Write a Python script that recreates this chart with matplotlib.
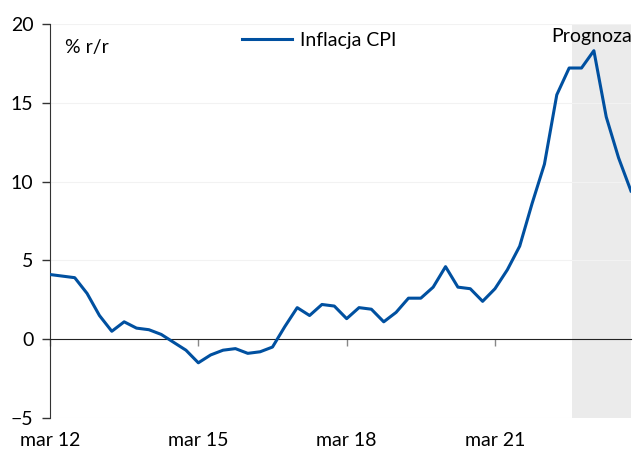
import matplotlib.pyplot as plt

# quarterly CPI y/y, 2012Q1 - 2023Q4
cpi = [4.1, 4.0, 3.9, 2.9, 1.5, 0.5, 1.1, 0.7, 0.6, 0.3,
       -0.2, -0.7, -1.5, -1.0, -0.7, -0.6, -0.9, -0.8, -0.5, 0.8,
       2.0, 1.5, 2.2, 2.1, 1.3, 2.0, 1.9, 1.1, 1.7, 2.6,
       2.6, 3.3, 4.6, 3.3, 3.2, 2.4, 3.2, 4.4, 5.9, 8.6,
       11.1, 15.5, 17.2, 17.2, 18.3, 14.1, 11.5, 9.4]
tick_pos = [0, 12, 24, 36]
tick_labels = ["mar 12", "mar 15", "mar 18", "mar 21"]

plt.rcParams['font.family'] = ['Lato', 'DejaVu Sans']
plt.rcParams['font.size'] = 13

fig = plt.figure(figsize=(6.37, 4.53), dpi=100)
ax = fig.add_axes([0.0785, 0.0773, 0.912, 0.87])

x = list(range(len(cpi)))
ax.axvspan(42.2, 47, color='#ebebeb', lw=0, zorder=0)
for v in [-5, 5, 10, 15, 20]:
    ax.axhline(v, color='#f2f2f2', lw=0.8, zorder=0)
ax.plot(x, cpi, color='#0050a0', lw=2.2, label='Inflacja CPI', zorder=3)

ax.set_xlim(0, 47)
ax.set_ylim(-5, 20)
ax.set_yticks([-5, 0, 5, 10, 15, 20])
ax.tick_params(axis='y', direction='out', length=6, width=1, color='#333333', pad=6, labelsize=14)

for s in ['top', 'right']:
    ax.spines[s].set_visible(False)
ax.spines['left'].set_color('#333333')
ax.spines['bottom'].set_position(('data', 0))
ax.spines['bottom'].set_color('#222222')
ax.set_xticks(tick_pos)
ax.tick_params(axis='x', direction='out', length=5, width=1, color='#888888', labelbottom=False)

sec = ax.secondary_xaxis('bottom')
sec.set_xticks(tick_pos)
sec.set_xticklabels(tick_labels)
sec.tick_params(length=0, pad=10, labelsize=14)
sec.spines['bottom'].set_visible(False)

ax.text(1.2, 18.5, '% r/r', fontsize=14, va='center', ha='left')
ax.text(47.1, 19.2, 'Prognoza', fontsize=14, va='center', ha='right')
ax.legend(loc='upper left', bbox_to_anchor=(0.3, 1.025), frameon=False, fontsize=14,
          handlelength=2.6, handletextpad=0.4)

fig.savefig('out.png', dpi=100)
